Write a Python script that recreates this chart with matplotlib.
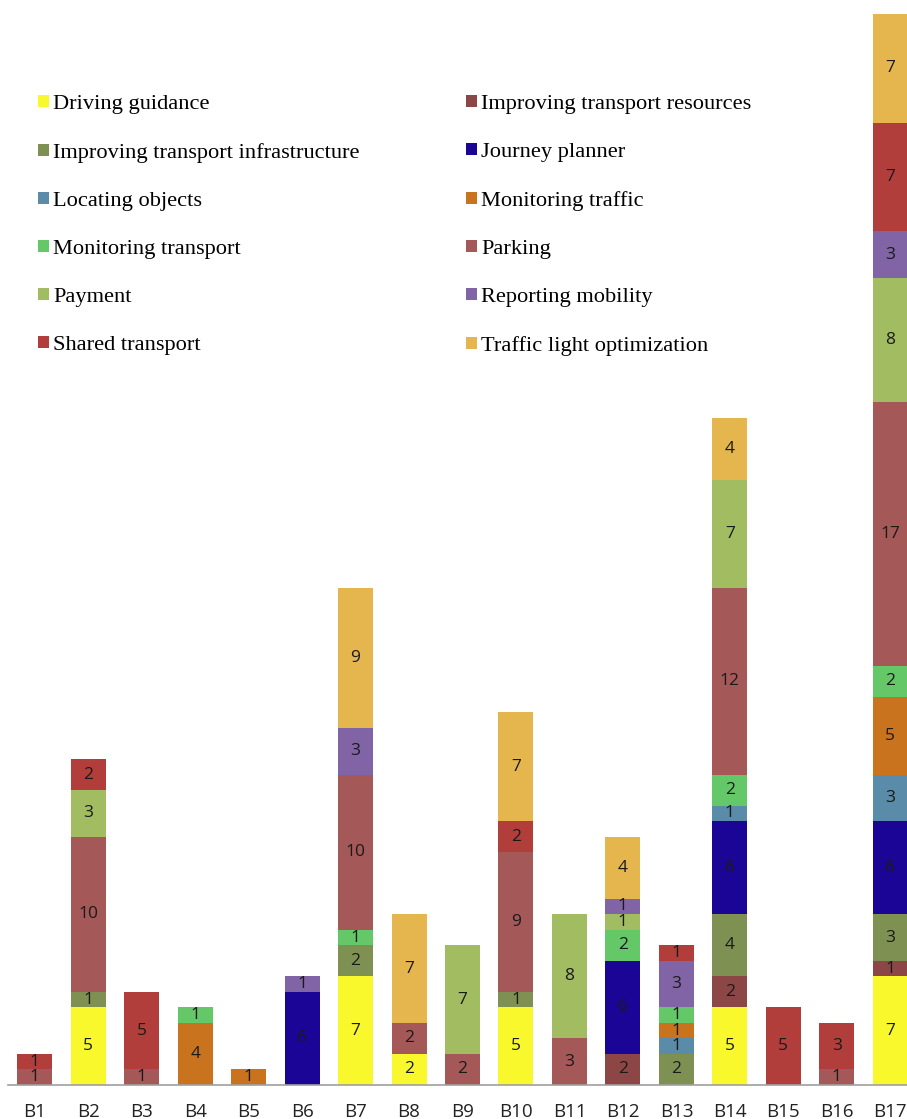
import matplotlib.pyplot as plt
import numpy as np

bars = ['B1', 'B2', 'B3', 'B4', 'B5', 'B6', 'B7', 'B8', 'B9', 'B10',
        'B11', 'B12', 'B13', 'B14', 'B15', 'B16', 'B17']

categories = ['Driving guidance', 'Improving transport resources',
              'Improving transport infrastructure', 'Journey planner',
              'Locating objects', 'Monitoring traffic', 'Monitoring transport',
              'Parking', 'Payment', 'Reporting mobility', 'Shared transport',
              'Traffic light optimization']

driving = [0, 5, 0, 0, 0, 0, 7, 2, 0, 5, 0, 0, 0, 5, 0, 0, 7]
resources = [0, 0, 0, 0, 0, 0, 0, 0, 0, 0, 0, 2, 0, 2, 0, 0, 1]
infrastructure = [0, 1, 0, 0, 0, 0, 2, 0, 0, 1, 0, 0, 2, 4, 0, 0, 3]
journey = [0, 0, 0, 0, 0, 6, 0, 0, 0, 0, 0, 6, 0, 6, 0, 0, 6]
locating = [0, 0, 0, 0, 0, 0, 0, 0, 0, 0, 0, 0, 1, 1, 0, 0, 3]
mon_traffic = [0, 0, 0, 4, 1, 0, 0, 0, 0, 0, 0, 0, 1, 0, 0, 0, 5]
mon_transport = [0, 0, 0, 1, 0, 0, 1, 0, 0, 0, 0, 2, 1, 2, 0, 0, 2]
parking = [1, 10, 1, 0, 0, 0, 10, 2, 2, 9, 3, 0, 0, 12, 0, 1, 17]
payment = [0, 3, 0, 0, 0, 0, 0, 0, 7, 0, 8, 1, 0, 7, 0, 0, 8]
reporting = [0, 0, 0, 0, 0, 1, 3, 0, 0, 0, 0, 1, 3, 0, 0, 0, 3]
shared = [1, 2, 5, 0, 0, 0, 0, 0, 0, 2, 0, 0, 1, 0, 5, 3, 7]
traffic_light = [0, 0, 0, 0, 0, 0, 9, 7, 0, 7, 0, 4, 0, 4, 0, 0, 7]

series = [driving, resources, infrastructure, journey, locating, mon_traffic,
          mon_transport, parking, payment, reporting, shared, traffic_light]

colors = ['#F8F82C', '#8C4646', '#7F9152', '#1B0596', '#5A8BA8', '#C9731F',
          '#64C768', '#A45858', '#A2BC62', '#8164A6', '#B23E3C', '#E5B64E']

fig = plt.figure(figsize=(9.07, 11.19), dpi=100)
ax = fig.add_axes([8 / 907, 34 / 1119, 909 / 907, 1071 / 1119])

x = np.arange(len(bars))
bottom = np.zeros(len(bars))
containers = []
for name, vals, col in zip(categories, series, colors):
    vals = np.array(vals, dtype=float)
    bc = ax.bar(x, vals, width=0.655, bottom=bottom, color=col,
                label=name, linewidth=0)
    containers.append(bc)
    for xi, v, b in zip(x, vals, bottom):
        if v > 0:
            ax.text(xi, b + v / 2, f'{int(v)}', ha='center', va='center',
                    fontsize=12.5, family='Open Sans', color='#1a1a1a')
    bottom += vals

ax.set_xlim(-0.5, 16.5)
ax.set_ylim(0, 69)
for s in ['top', 'right', 'left']:
    ax.spines[s].set_visible(False)
ax.spines['bottom'].set_color('#a0a0a0')
ax.spines['bottom'].set_linewidth(1.2)
ax.set_yticks([])
ax.set_xticks(x)
ax.set_xticklabels(bars, fontsize=13.5, family='Open Sans', color='#222222')
ax.tick_params(axis='x', length=0, pad=13)

# legend fills column-first, so interleave to read row by row
order = list(range(0, 12, 2)) + list(range(1, 12, 2))
ax.legend([containers[i] for i in order], [categories[i] for i in order],
          ncol=2, loc='upper left', bbox_to_anchor=(38 / 907, 1 - 95 / 1119),
          bbox_transform=fig.transFigure, frameon=False,
          prop={'family': 'Liberation Serif', 'size': 16.1},
          handlelength=0.48, handleheight=0.48, handletextpad=0.2,
          labelspacing=1.29, columnspacing=4.75, borderpad=0, borderaxespad=0)

fig.savefig('out.png', dpi=100)
